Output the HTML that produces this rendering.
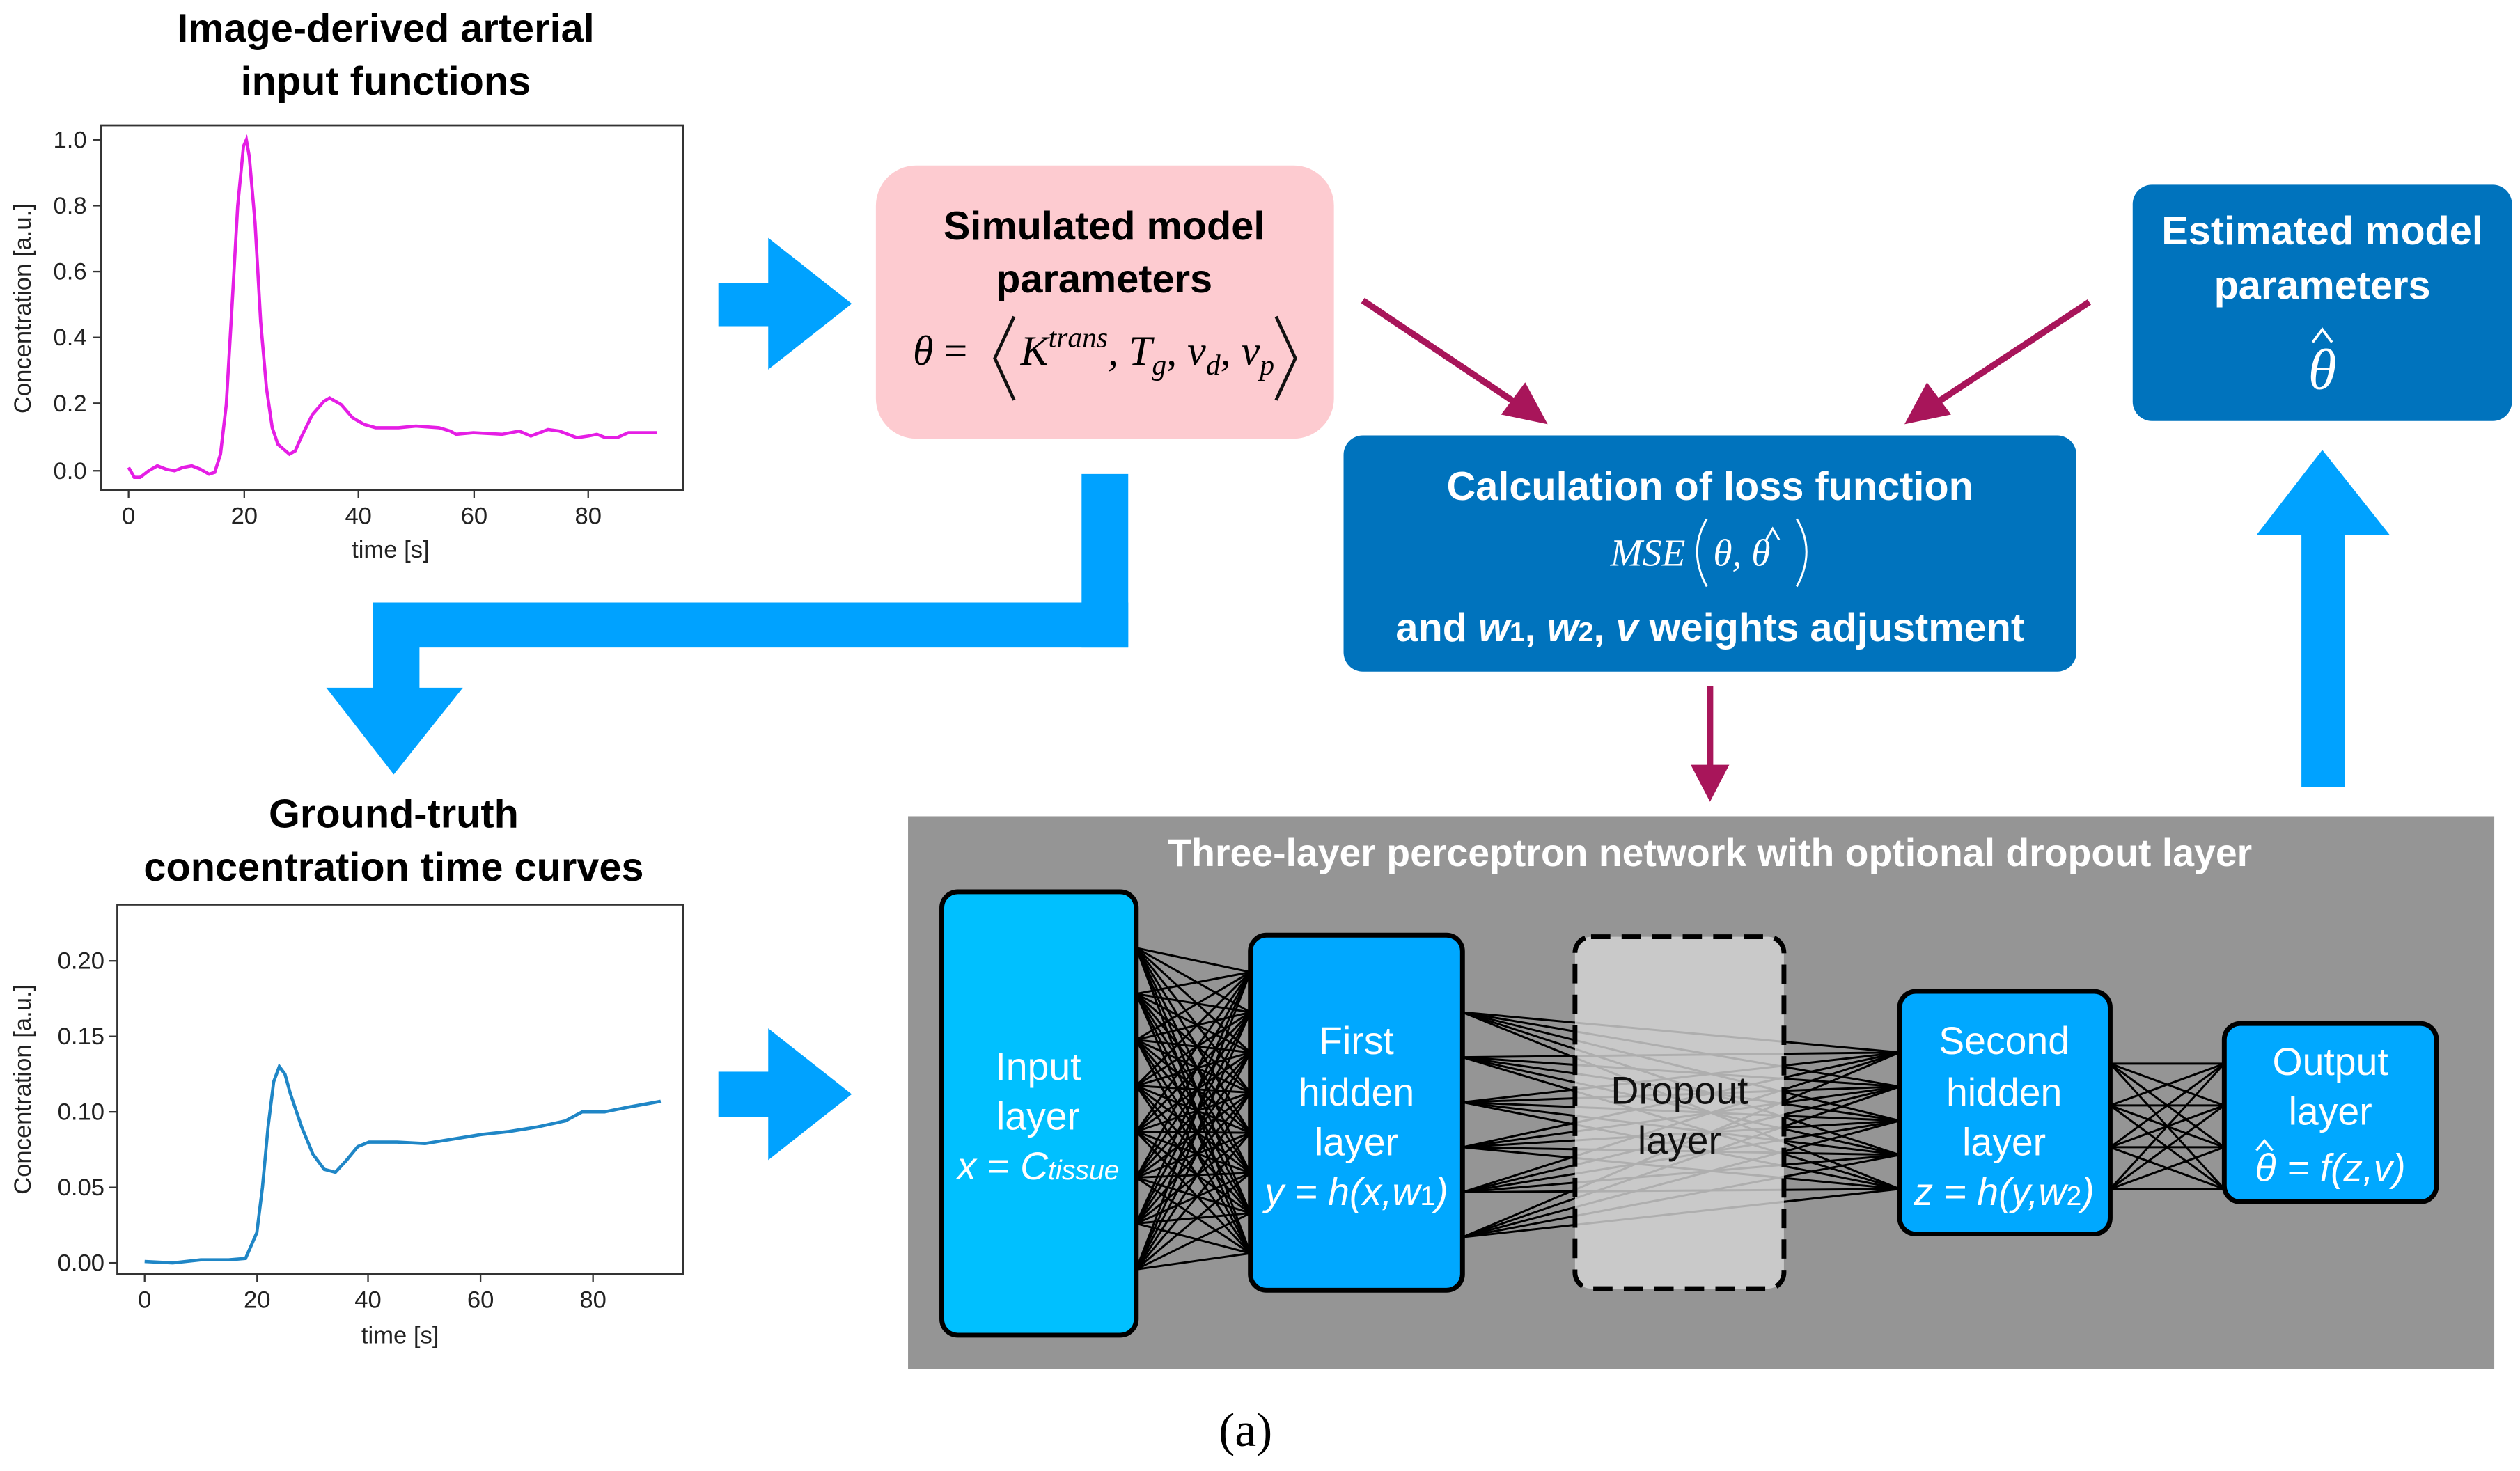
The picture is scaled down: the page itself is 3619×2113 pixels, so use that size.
<!DOCTYPE html>
<html><head><meta charset="utf-8"><style>
html,body{margin:0;padding:0;background:#fff;width:3619px;height:2113px;overflow:hidden}
svg{display:block}
.sans{font-family:"Liberation Sans",sans-serif}
.b{font-weight:bold}
.m{font-family:"Liberation Serif",serif;font-style:italic}
</style></head><body>
<svg id="s" width="3619" height="2113" viewBox="0 0 1568 915.5" preserveAspectRatio="none" xmlns="http://www.w3.org/2000/svg">
<g class="sans">
<!-- Titles -->
<text x="240" y="26" text-anchor="middle" class="b" font-size="25">Image-derived arterial</text>
<text x="240" y="59" text-anchor="middle" class="b" font-size="25">input functions</text>
<text x="245" y="515" text-anchor="middle" class="b" font-size="25">Ground-truth</text>
<text x="245" y="548" text-anchor="middle" class="b" font-size="25">concentration time curves</text>

<!-- Plot 1 -->
<rect x="63" y="78" width="362" height="227" fill="#fff" stroke="#333" stroke-width="1.2"/>
<g font-size="15" fill="#222" text-anchor="end">
<text x="54" y="92">1.0</text><text x="54" y="133">0.8</text><text x="54" y="174">0.6</text><text x="54" y="215">0.4</text><text x="54" y="256">0.2</text><text x="54" y="298">0.0</text>
</g>
<g stroke="#333"><line x1="58" y1="87" x2="63" y2="87"/><line x1="58" y1="128" x2="63" y2="128"/><line x1="58" y1="169" x2="63" y2="169"/><line x1="58" y1="210" x2="63" y2="210"/><line x1="58" y1="251" x2="63" y2="251"/><line x1="58" y1="293" x2="63" y2="293"/>
<line x1="80" y1="305" x2="80" y2="310"/><line x1="152" y1="305" x2="152" y2="310"/><line x1="223" y1="305" x2="223" y2="310"/><line x1="295" y1="305" x2="295" y2="310"/><line x1="366" y1="305" x2="366" y2="310"/></g>
<g font-size="15" fill="#222" text-anchor="middle">
<text x="80" y="326">0</text><text x="152" y="326">20</text><text x="223" y="326">40</text><text x="295" y="326">60</text><text x="366" y="326">80</text>
<text x="243" y="347">time [s]</text>
<text transform="translate(19,192) rotate(-90)">Concentration [a.u.]</text>
</g>
<path id="p1" fill="none" stroke="#e51ee5" stroke-width="2"/>

<!-- Plot 2 -->
<rect x="73" y="563" width="352" height="230" fill="#fff" stroke="#333" stroke-width="1.2"/>
<g font-size="15" fill="#222" text-anchor="end">
<text x="65" y="603">0.20</text><text x="65" y="650">0.15</text><text x="65" y="697">0.10</text><text x="65" y="744">0.05</text><text x="65" y="791">0.00</text>
</g>
<g stroke="#333"><line x1="68" y1="598" x2="73" y2="598"/><line x1="68" y1="645" x2="73" y2="645"/><line x1="68" y1="692" x2="73" y2="692"/><line x1="68" y1="739" x2="73" y2="739"/><line x1="68" y1="786" x2="73" y2="786"/>
<line x1="90" y1="793" x2="90" y2="798"/><line x1="160" y1="793" x2="160" y2="798"/><line x1="229" y1="793" x2="229" y2="798"/><line x1="299" y1="793" x2="299" y2="798"/><line x1="369" y1="793" x2="369" y2="798"/></g>
<g font-size="15" fill="#222" text-anchor="middle">
<text x="90" y="814">0</text><text x="160" y="814">20</text><text x="229" y="814">40</text><text x="299" y="814">60</text><text x="369" y="814">80</text>
<text x="249" y="836">time [s]</text>
<text transform="translate(19,678) rotate(-90)">Concentration [a.u.]</text>
</g>
<path id="p2" fill="none" stroke="#1f86c6" stroke-width="2"/>

<!-- Blue arrows -->
<g fill="#00a2ff">
<rect x="447" y="176" width="32" height="27"/><polygon points="478,148 530,189 478,230"/>
<rect x="447" y="667" width="32" height="28"/><polygon points="478,640 530,681 478,722"/>
<rect x="673" y="295" width="29" height="108"/><rect x="232" y="375" width="470" height="28"/><rect x="232" y="400" width="29" height="30"/>
<polygon points="203,428 288,428 245,482"/>
<rect x="1432" y="330" width="27" height="160"/><polygon points="1404,333 1487,333 1445,280"/>
</g>

<!-- Pink box -->
<rect x="545" y="103" width="285" height="170" rx="25" fill="#fdcbd0"/>
<text x="687" y="149" text-anchor="middle" class="b" font-size="25">Simulated model</text>
<text x="687" y="182" text-anchor="middle" class="b" font-size="25">parameters</text>
<text x="568" y="227" class="m" font-size="26">θ<tspan style="font-style:normal"> =</tspan></text>
<polyline points="631,197 619,223 631,249" fill="none" stroke="#111" stroke-width="2"/>
<text x="635" y="227" class="m" font-size="26">K<tspan font-size="18" dy="-11">trans</tspan><tspan dy="11">, T</tspan><tspan font-size="18" dy="6">g</tspan><tspan dy="-6">, v</tspan><tspan font-size="18" dy="6">d</tspan><tspan dy="-6">, v</tspan><tspan font-size="18" dy="6">p</tspan></text>
<polyline points="794,197 806,223 794,249" fill="none" stroke="#111" stroke-width="2"/>

<!-- Loss box -->
<rect x="836" y="271" width="456" height="147" rx="12" fill="#0073bd"/>
<text x="1064" y="311" text-anchor="middle" class="b" font-size="25" fill="#fff">Calculation of loss function</text>
<text x="1002" y="352" class="m" font-size="24" fill="#fff">MSE</text>
<path d="M1062,323 Q1050,343 1062,365" fill="none" stroke="#fff" stroke-width="1.3"/>
<text x="1066" y="352" class="m" font-size="24" fill="#fff">θ, θ</text>
<path d="M1099,336 L1103,329 L1107,336" fill="none" stroke="#fff" stroke-width="1.3"/>
<path d="M1118,323 Q1130,343 1118,365" fill="none" stroke="#fff" stroke-width="1.3"/>
<text x="1064" y="399" text-anchor="middle" class="b" font-size="25" fill="#fff">and <tspan font-style="italic">w</tspan><tspan font-size="17">1</tspan>, <tspan font-style="italic">w</tspan><tspan font-size="17">2</tspan>, <tspan font-style="italic">v</tspan> weights adjustment</text>

<!-- Estimated box -->
<rect x="1327" y="115" width="236" height="147" rx="12" fill="#0073bd"/>
<text x="1445" y="152" text-anchor="middle" class="b" font-size="25" fill="#fff">Estimated model</text>
<text x="1445" y="186" text-anchor="middle" class="b" font-size="25" fill="#fff">parameters</text>
<text x="1445" y="242" text-anchor="middle" class="m" font-size="36" fill="#fff">θ</text>
<path d="M1439,213 L1445,205 L1451,213" fill="none" stroke="#fff" stroke-width="1.6"/>

<!-- Magenta arrows -->
<g stroke="#a8155a" stroke-width="4" fill="#a8155a">
<line x1="848" y1="187" x2="945" y2="252"/><polygon points="963,264 934,258 949,238" stroke="none"/>
<line x1="1300" y1="188" x2="1203" y2="252"/><polygon points="1185,264 1199,238 1214,258" stroke="none"/>
<line x1="1064" y1="427" x2="1064" y2="480"/><polygon points="1052,476 1076,476 1064,499" stroke="none"/>
</g>

<!-- Gray panel -->
<rect x="565" y="508" width="987" height="344" fill="#959595"/>
<text x="1064" y="539" text-anchor="middle" class="b" font-size="24" fill="#fff">Three-layer perceptron network with optional dropout layer</text>
<g id="net" stroke="#000" stroke-width="1.3"></g>
<rect x="586" y="555" width="121" height="276" rx="10" fill="#00c0ff" stroke="#000" stroke-width="3"/>
<rect x="778" y="582" width="132" height="221" rx="10" fill="#00a8ff" stroke="#000" stroke-width="3"/>
<rect x="980" y="583" width="130" height="219" rx="10" fill="#d4d4d4" fill-opacity="0.82" stroke="#000" stroke-width="3" stroke-dasharray="12,7"/>
<rect x="1182" y="617" width="131" height="151" rx="10" fill="#00a8ff" stroke="#000" stroke-width="3"/>
<rect x="1384" y="637" width="132" height="111" rx="10" fill="#00a8ff" stroke="#000" stroke-width="3"/>
<g font-size="24" fill="#fff" text-anchor="middle">
<text x="646" y="672">Input</text><text x="646" y="703">layer</text>
<text x="646" y="734" font-style="italic">x = C<tspan font-size="17">tissue</tspan></text>
<text x="844" y="656">First</text><text x="844" y="688">hidden</text><text x="844" y="719">layer</text>
<text x="844" y="750" font-style="italic">y = h(x,w<tspan font-size="17" font-style="normal">1</tspan>)</text>
<text x="1045" y="687" fill="#111">Dropout</text><text x="1045" y="718" fill="#111">layer</text>
<text x="1247" y="656">Second</text><text x="1247" y="688">hidden</text><text x="1247" y="719">layer</text>
<text x="1247" y="750" font-style="italic">z = h(y,w<tspan font-size="17" font-style="normal">2</tspan>)</text>
<text x="1450" y="669">Output</text><text x="1450" y="700">layer</text>
<text x="1450" y="735" font-style="italic">θ = f(z,v)</text>
</g>
<path d="M1404,716 L1409,710 L1414,716" fill="none" stroke="#fff" stroke-width="1.5"/>
</g>
<text x="775" y="900" text-anchor="middle" style="font-family:'Liberation Serif',serif" font-size="30">(a)</text>
</svg>
<script>
function path(id,pts,fx,fy){var d='';pts.forEach(function(p,i){d+=(i?'L':'M')+fx(p[0]).toFixed(1)+','+fy(p[1]).toFixed(1)});document.getElementById(id).setAttribute('d',d);}
path('p1',[[0,0.01],[1,-0.02],[2,-0.02],[3.5,0],[5,0.015],[6.5,0.005],[8,0],[9.5,0.01],[11,0.015],[12.5,0.005],[14,-0.01],[15,-0.005],[16,0.05],[17,0.2],[18,0.5],[19,0.8],[20,0.98],[20.5,1.0],[21,0.95],[22,0.75],[23,0.45],[24,0.25],[25,0.13],[26,0.08],[28,0.05],[29,0.06],[30,0.1],[32,0.17],[34,0.21],[35,0.22],[37,0.2],[39,0.16],[41,0.14],[43,0.13],[47,0.13],[50,0.135],[54,0.13],[56,0.12],[57,0.11],[60,0.115],[65,0.11],[68,0.12],[70,0.105],[73,0.125],[75,0.12],[78,0.1],[80,0.105],[81.5,0.11],[83,0.1],[85,0.1],[87,0.115],[92,0.115]],function(t){return 80+t*3.575},function(v){return 293-v*206});
path('p2',[[0,0.001],[5,0.0],[10,0.002],[15,0.002],[18,0.003],[20,0.02],[21,0.05],[22,0.09],[23,0.12],[24,0.13],[25,0.125],[26,0.112],[28,0.09],[30,0.072],[32,0.062],[34,0.06],[36,0.068],[38,0.077],[40,0.08],[45,0.08],[50,0.079],[55,0.082],[60,0.085],[65,0.087],[70,0.09],[75,0.094],[78,0.1],[82,0.1],[86,0.103],[92,0.107]],function(t){return 90+t*3.49},function(v){return 786-v*940});
var g=document.getElementById('net'),NS='http://www.w3.org/2000/svg';
function L(x1,y1,x2,y2){var l=document.createElementNS(NS,'line');l.setAttribute('x1',x1);l.setAttribute('y1',y1);l.setAttribute('x2',x2);l.setAttribute('y2',y2);g.appendChild(l);}
function pts(a,b,n){var r=[];for(var i=0;i<n;i++)r.push(a+(b-a)*i/(n-1));return r;}
var A=pts(590,790,8),B=pts(605,780,8);
A.forEach(function(a){B.forEach(function(b){L(707,a,778,b)})});
var C=pts(630,770,6),D=pts(655,740,5);
C.forEach(function(a){D.forEach(function(b){L(910,a,1182,b)})});
var E=pts(662,740,4),F=pts(662,740,4);
E.forEach(function(a){F.forEach(function(b){L(1313,a,1384,b)})});
</script>
</body></html>
